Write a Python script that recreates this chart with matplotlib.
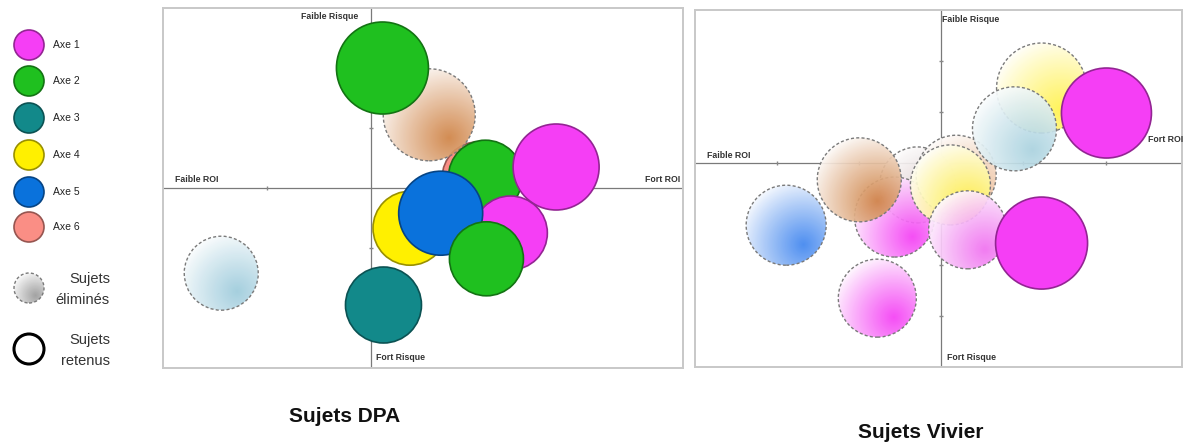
import numpy as np
import matplotlib
matplotlib.use("Agg")
import matplotlib.pyplot as plt
from matplotlib.patches import Circle
from matplotlib.transforms import ScaledTranslation
from matplotlib.colors import to_rgb

plt.rcParams['font.family'] = ['Liberation Sans', 'DejaVu Sans']

W, H = 1184, 444

# Legende : axes et couleurs
axes_noms = ['Axe 1', 'Axe 2', 'Axe 3', 'Axe 4', 'Axe 5', 'Axe 6']
axes_couleurs = ['#f53ef5', '#1fc01f', '#12898a', '#fff000', '#0a72dc', '#fa8e85']

# Sujets DPA : ROI (x), risque (y), taille de bulle, couleur, retenu ou non
dpa_roi = [1.03, 0.56, 0.11, 1.10, 1.78, 0.375, 1.34, 0.67, 1.11, 0.12, -1.44]
dpa_risque = [0.17, 1.22, 2.00, 0.18, 0.35, -0.67, -0.75, -0.42, -1.18, -1.95, -1.42]
dpa_taille = [36, 46, 46, 37, 43, 37, 37, 42, 37, 38, 37]
dpa_couleur = ['#fa8e85', '#cf8244', '#1fc01f', '#1fc01f', '#f53ef5', '#fff000',
               '#f53ef5', '#0a72dc', '#1fc01f', '#12898a', '#9dcbdc']
dpa_retenu = [True, False, True, True, True, True, True, True, True, True, False]

# Sujets Vivier
viv_roi = [-0.29, -0.57, -1.00, 0.18, 0.11, 0.32, 1.22, 1.22, 0.89, 2.01, -1.89, -0.78]
viv_risque = [-0.43, -1.06, -0.33, -0.24, -0.43, -1.31, -1.57, 1.47, 0.67, 0.98, -1.22, -2.65]
viv_taille = [38, 40, 42, 40, 40, 39, 46, 45, 42, 45, 40, 39]
viv_couleur = ['#d6c4c4', '#f53ef5', '#cf8244', '#e9b58c', '#fff24a', '#f070f0',
               '#f53ef5', '#fff24a', '#a9d2df', '#f53ef5', '#3f85ef', '#f53ef5']
viv_retenu = [False, False, False, False, False, False, True, False, False, True, False, False]

fig = plt.figure(figsize=(W / 100, H / 100), dpi=100)


def px_axes(x0, x1, y0, y1):
    return fig.add_axes([x0 / W, 1 - y1 / H, (x1 - x0) / W, (y1 - y0) / H])


def sombre(c, f=0.6):
    return tuple(v * f for v in to_rgb(c))


def degrade(c, n=120):
    u, v = np.meshgrid(np.linspace(0, 1, n), np.linspace(0, 1, n))
    d = np.hypot(u - 0.72, v - 0.75)
    t = np.clip(1 - d / 0.85, 0, 1) ** 0.9
    rgb = np.array(to_rgb(c))
    img = np.ones((n, n, 4))
    img[..., :3] = 1 - t[..., None] * (1 - rgb)
    img[..., 3] = 0.92
    return img


def bulle(ax, x, y, taille, couleur, retenu, z, lw=1.2):
    r = taille / fig.dpi
    tr = fig.dpi_scale_trans + ScaledTranslation(x, y, ax.transData)
    if retenu:
        ax.add_patch(Circle((0, 0), r, transform=tr, facecolor=couleur,
                            edgecolor=sombre(couleur), lw=lw, zorder=z))
    else:
        clip = Circle((0, 0), r, transform=tr, facecolor='none', edgecolor='none')
        im = ax.imshow(degrade(couleur), extent=(-r, r, -r, r), transform=tr,
                       zorder=z, interpolation='bilinear', aspect='auto')
        im.set_clip_path(clip)
        ax.add_patch(Circle((0, 0), r, transform=tr, facecolor='none',
                            edgecolor='#7a7a7a', lw=1.0, ls=(0, (2.2, 1.6)),
                            zorder=z + 0.5))


def panneau(ax, xlim, ylim, roi, risque, taille, couleur, retenu):
    for i in range(len(roi)):
        bulle(ax, roi[i], risque[i], taille[i], couleur[i], retenu[i], 3 + i)
    ax.axhline(0, color='#7a7a7a', lw=0.9, zorder=1)
    ax.axvline(0, color='#7a7a7a', lw=0.9, zorder=1)
    xt = [v for v in range(int(xlim[0]) + 1, int(np.ceil(xlim[1]))) if v != 0]
    yt = [v for v in range(int(ylim[0]) + 1, int(np.ceil(ylim[1]))) if v != 0]
    ax.plot(xt, [0] * len(xt), ls='none', marker='|', ms=3, color='#888888', zorder=1)
    ax.plot([0] * len(yt), yt, ls='none', marker='_', ms=3, color='#888888', zorder=1)
    ax.set_xlim(*xlim)
    ax.set_ylim(*ylim)
    ax.set_xticks([])
    ax.set_yticks([])
    for s in ax.spines.values():
        s.set_color('#c8c8c8')
        s.set_linewidth(1.4)


def etiquette(ax, xy, dx, dy, txt, ha):
    ax.annotate(txt, xy=xy, xytext=(dx * 0.72, dy * 0.72), textcoords='offset points',
                ha=ha, va='center', fontsize=6.3, fontweight='bold', color='#333333',
                annotation_clip=False, zorder=30)


# Panneau DPA
ax1 = px_axes(163, 683, 8, 368)
panneau(ax1, (-2, 3), (-3, 3), dpa_roi, dpa_risque, dpa_taille, dpa_couleur, dpa_retenu)
etiquette(ax1, (0, 3), -13, -9, 'Faible Risque', 'right')
etiquette(ax1, (0, -3), 5, 11, 'Fort Risque', 'left')
etiquette(ax1, (-2, 0), 12, 8, 'Faible ROI', 'left')
etiquette(ax1, (3, 0), -3, 8, 'Fort ROI', 'right')

# Panneau Vivier
ax2 = px_axes(695, 1182, 10, 367)
panneau(ax2, (-3, 2.93), (-4, 3), viv_roi, viv_risque, viv_taille, viv_couleur, viv_retenu)
etiquette(ax2, (0, 3), 1, -10, 'Faible Risque', 'left')
etiquette(ax2, (0, -4), 6, 10, 'Fort Risque', 'left')
etiquette(ax2, (-3, 0), 12, 8, 'Faible ROI', 'left')
etiquette(ax2, (2.51, 0), 0, 23, 'Fort ROI', 'left')

# Legende
axl = px_axes(0, 160, 0, 444)
axl.set_xlim(0, 160)
axl.set_ylim(444, 0)
axl.axis('off')
ly = [45, 81, 118, 155, 192, 227]
for i, nom in enumerate(axes_noms):
    axl.add_patch(Circle((29, ly[i]), 15, facecolor=axes_couleurs[i],
                         edgecolor=sombre(axes_couleurs[i]), lw=1.2))
    axl.text(53, ly[i], nom, fontsize=7.5, va='center', ha='left', color='#222222')
bulle(axl, 29, 288, 15, '#9a9a9a', False, 3)
axl.text(110, 279, 'Sujets', fontsize=10.5, ha='right', va='center', color='#333333')
axl.text(110, 300, 'éliminés', fontsize=10.5, ha='right', va='center', color='#333333')
axl.add_patch(Circle((29, 349), 15, facecolor='white', edgecolor='black', lw=2.2))
axl.text(110, 340, 'Sujets', fontsize=10.5, ha='right', va='center', color='#333333')
axl.text(110, 361, 'retenus', fontsize=10.5, ha='right', va='center', color='#333333')

fig.text(345 / W, 1 - 416 / H, 'Sujets DPA', ha='center', va='center',
         fontsize=15, fontweight='bold', color='#111111')
fig.text(921 / W, 1 - 432 / H, 'Sujets Vivier', ha='center', va='center',
         fontsize=15, fontweight='bold', color='#111111')

fig.savefig('out.png', dpi=100)
